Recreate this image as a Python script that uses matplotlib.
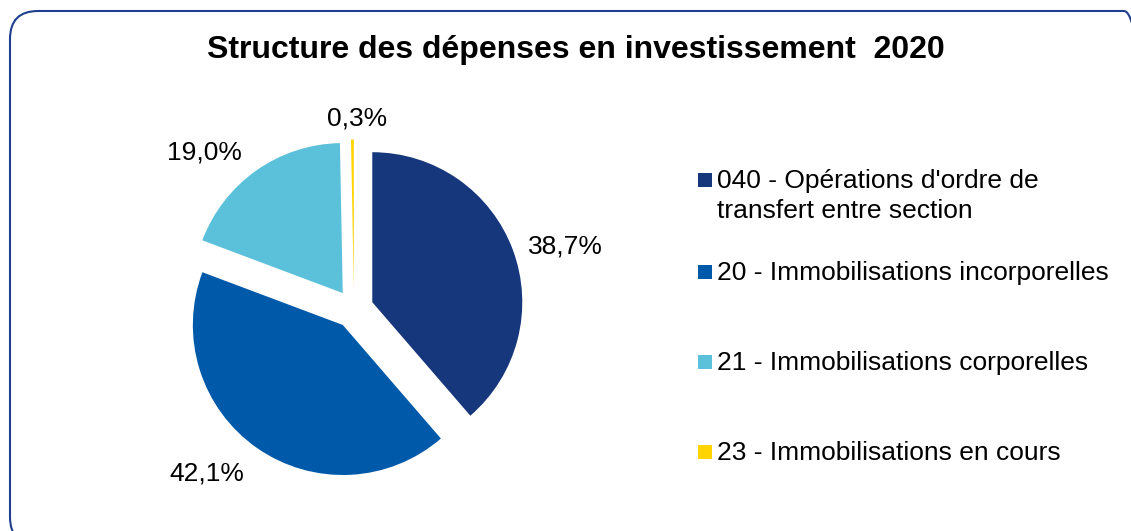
import numpy as np
import matplotlib.pyplot as plt
from matplotlib.patches import FancyBboxPatch, Rectangle

plt.rcParams['font.family'] = ['Liberation Sans', 'DejaVu Sans']

# données
categories = ["040 - Opérations d'ordre de\ntransfert entre section",
              "20 - Immobilisations incorporelles",
              "21 - Immobilisations corporelles",
              "23 - Immobilisations en cours"]
values = [38.7, 42.1, 19.0, 0.3]
colors = ['#17377D', '#005AA9', '#5BC1DA', '#FFD400']
# placement des étiquettes (distance au centre en rayons, décalage angulaire en degrés)
label_dist = [1.47, 1.47, 1.44, 1.27]
label_turn = [-4, -7, 8.5, -1.5]

W, H = 1131, 531
fig = plt.figure(figsize=(W / 100, H / 100), dpi=100)

# cadre arrondi (coupé à droite et en bas)
cadre = FancyBboxPatch((10, -14), 1142, 534, boxstyle='round,pad=0,rounding_size=28',
                       transform=None, facecolor='none', edgecolor='#1F3F8F', linewidth=1.5,
                       zorder=5)
fig.patches.append(cadre)

fig.text(576 / W, 1 - 50 / H, 'Structure des dépenses en investissement  2020',
         ha='center', va='center', fontsize=23, fontweight='bold', color='black')

# camembert : centre (354, 309) px, rayon 150 px
cx, cy, r = 354, 309, 150
ax = fig.add_axes([(cx - 270) / W, (H - cy - 225) / H, 540 / W, 450 / H])
wedges, texts, autotexts = ax.pie(values, colors=colors, startangle=90, counterclock=False,
                                  explode=[0.13] * len(values), radius=1,
                                  autopct=lambda p: f'{p:.1f}%'.replace('.', ','),
                                  textprops={'fontsize': 19, 'color': 'black'},
                                  wedgeprops={'linewidth': 0})
ax.set_xlim(-1.8, 1.8)
ax.set_ylim(-1.5, 1.5)
ax.set_aspect('equal')
ax.axis('off')

for w, t, d, a, v in zip(wedges, autotexts, label_dist, label_turn, values):
    ang = np.deg2rad((w.theta1 + w.theta2) / 2 + a)
    t.set_position((d * np.cos(ang), d * np.sin(ang)))
    t.set_text(f'{v:.1f}%'.replace('.', ','))

# légende manuelle (ligne de base de la première ligne de chaque entrée)
baselines = [188, 280, 370, 460]
pitch = 30
for lab, col, b in zip(categories, colors, baselines):
    fig.patches.append(Rectangle((698, H - b + 1), 14, 14, transform=None,
                                 facecolor=col, edgecolor='none'))
    last = b + pitch * lab.count('\n')
    fig.text(717 / W, 1 - last / H, lab, ha='left', va='baseline', fontsize=19,
             linespacing=1.3, color='black')

fig.savefig('out.png', dpi=100)
